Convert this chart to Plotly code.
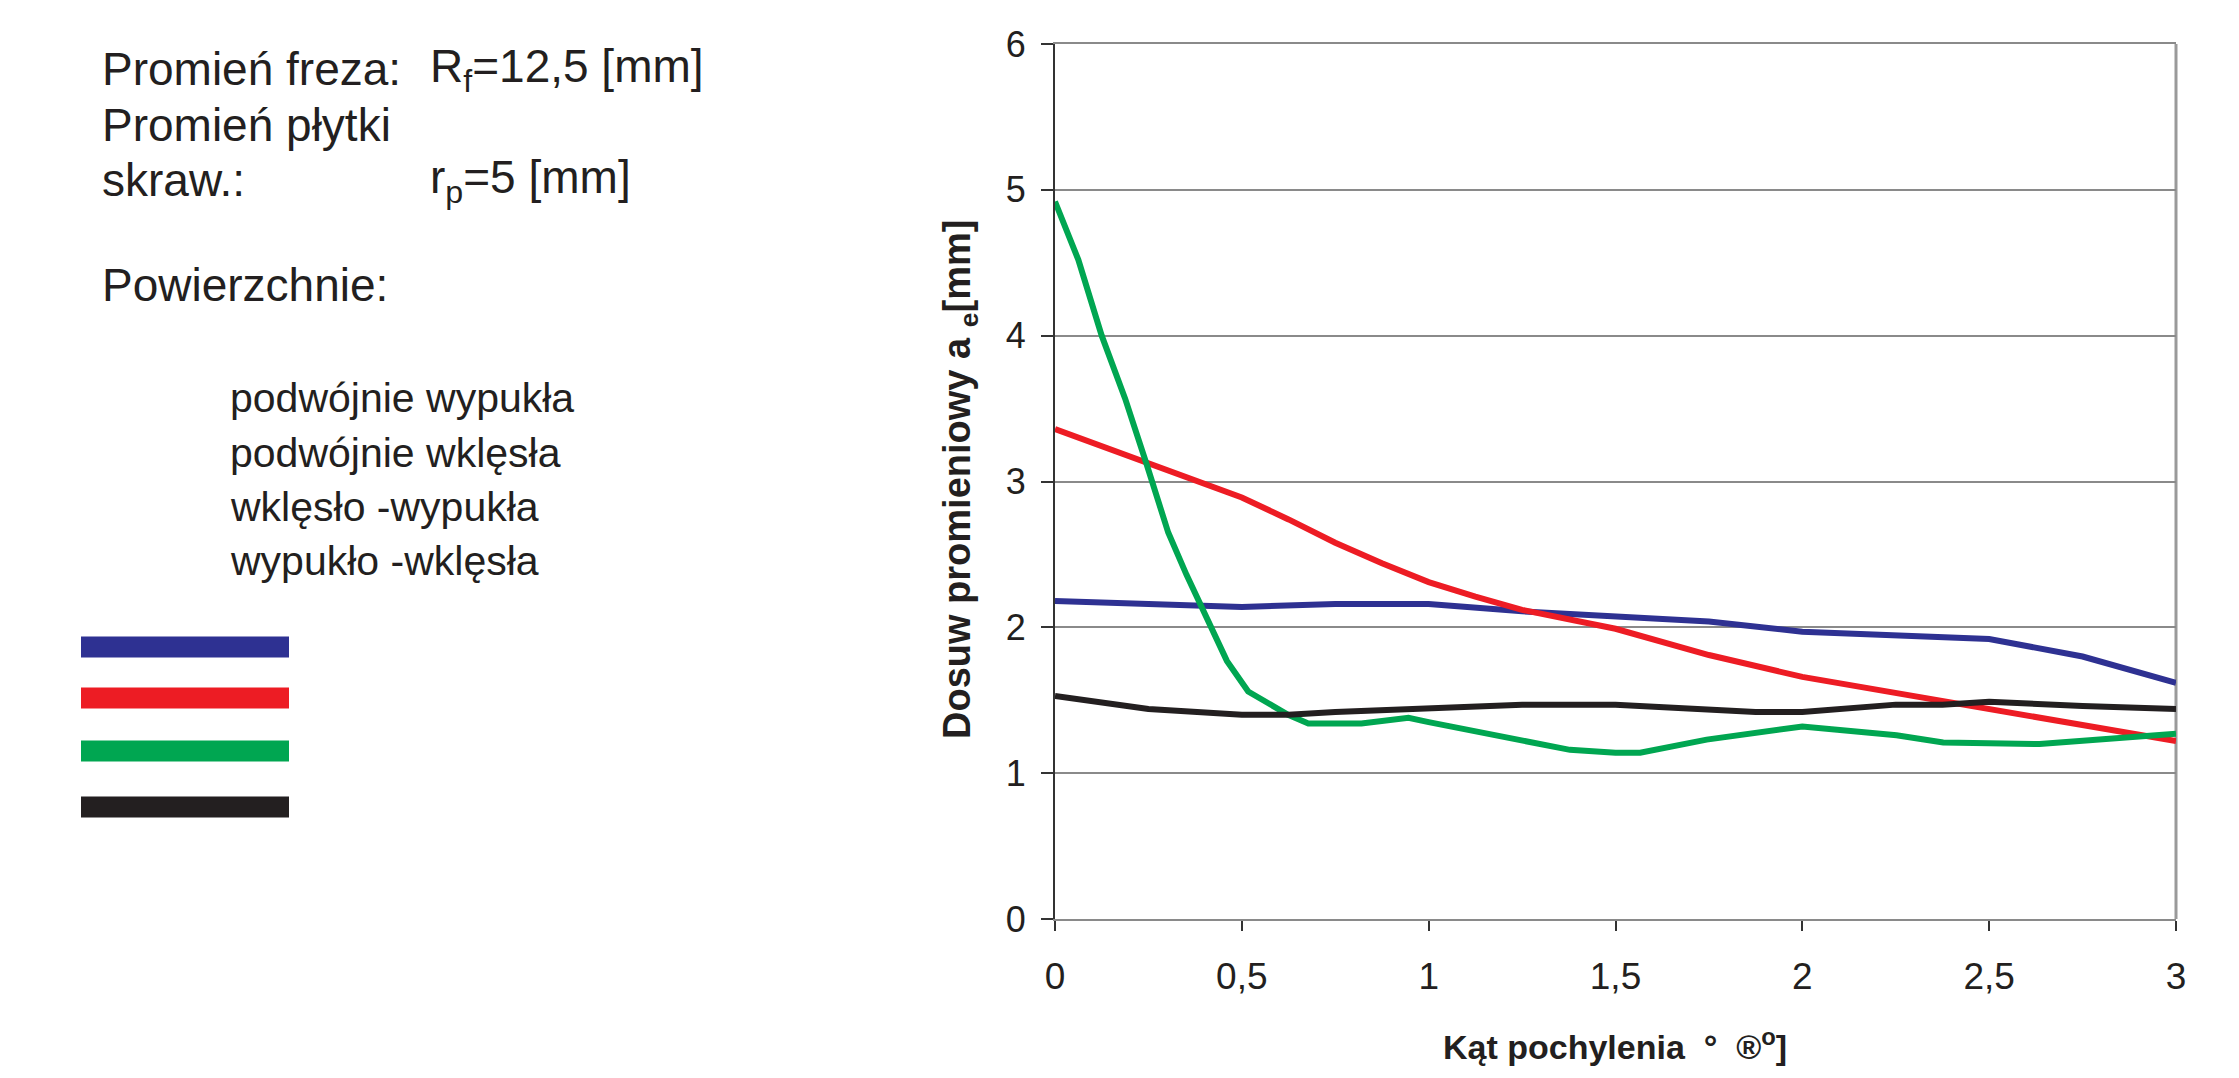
import plotly.graph_objects as go

# ---------------- data ----------------
names = ["podwójnie wypukła", "podwójnie wklęsła", "wklęsło -wypukła", "wypukło -wklęsła"]
colors = ["#2E3192", "#ED1C24", "#00A651", "#231F20"]

x_blue = [0, 0.5, 0.75, 1.0, 1.25, 1.5, 1.75, 2.0, 2.125, 2.25, 2.375, 2.5, 2.75, 3.0]
y_blue = [2.18, 2.14, 2.16, 2.16, 2.11, 2.08, 2.04, 1.97, 1.96, 1.94, 1.94, 1.92, 1.80, 1.62]

x_red = [0, 0.125, 0.25, 0.5, 0.625, 0.75, 0.875, 1.0, 1.125, 1.25, 1.5, 1.75, 2.0, 2.25, 2.5, 2.75, 3.0]
y_red = [3.36, 3.24, 3.12, 2.89, 2.74, 2.58, 2.44, 2.31, 2.21, 2.12, 1.99, 1.81, 1.66, 1.55, 1.45, 1.34, 1.22]

x_green = [0, 0.0625, 0.125, 0.1875, 0.245, 0.303, 0.352, 0.40, 0.46, 0.517, 0.557, 0.624, 0.678,
           0.82, 0.946, 1.0, 1.378, 1.5, 1.566, 1.744, 2.0, 2.252, 2.377, 2.506, 2.635, 3.0]
y_green = [4.92, 4.52, 4.0, 3.57, 3.12, 2.65, 2.36, 2.10, 1.77, 1.56, 1.50, 1.40, 1.34,
           1.34, 1.38, 1.35, 1.16, 1.14, 1.14, 1.23, 1.32, 1.26, 1.21, 1.20, 1.20, 1.27]

x_black = [0, 0.25, 0.5, 0.625, 0.75, 1.0, 1.25, 1.5, 1.75, 1.875, 2.0, 2.25, 2.375, 2.5, 2.75, 3.0]
y_black = [1.53, 1.44, 1.40, 1.40, 1.42, 1.44, 1.47, 1.47, 1.44, 1.42, 1.42, 1.47, 1.47, 1.49, 1.46, 1.44]

xtick_vals = [0, 0.5, 1, 1.5, 2, 2.5, 3]
xtick_text = ["0", "0,5", "1", "1,5", "2", "2,5", "3"]
ytick_vals = [0, 1, 2, 3, 4, 5, 6]
ytick_text = ["0", "1", "2", "3", "4", "5", "6"]

series_x = [x_blue, x_red, x_green, x_black]
series_y = [y_blue, y_red, y_green, y_black]

# ---------------- layout geometry (page pixels) ----------------
W, H = 2239, 1078
OFF = 8                     # default page body margin
PL, PR, PT, PB = 1055, 2176, 44, 919
FONT = "Liberation Sans, Arial, sans-serif"
TXT = "#231F20"

def px(xp):
    return (xp - PL) / (PR - PL)

def py(yp):
    return (PB - yp) / (PB - PT)

fig = go.Figure()
for xs, ys, nm, c in zip(series_x, series_y, names, colors):
    fig.add_trace(go.Scatter(x=xs, y=ys, mode="lines", name=nm,
                             line=dict(color=c, width=6), showlegend=False))

annotations = []
def note(text, xp, yp, size=46, anchor="left", angle=0):
    annotations.append(dict(text=text, x=px(xp), y=py(yp), xref="paper", yref="paper",
                            xanchor=anchor, yanchor="middle", showarrow=False,
                            textangle=angle,
                            font=dict(family=FONT, size=size, color=TXT)))

note("Promień freza:", 100, 69)
note("R<sub>f</sub>=12,5 [mm]", 428, 69)
note("Promień płytki", 100, 125)
note("skraw.:", 100, 180)
note("r<sub>p</sub>=5 [mm]", 428, 180)
note("Powierzchnie:", 100, 285)
for nm, yy in zip(names, [398, 453, 507, 561]):
    note(nm, 228, yy, size=41)

# axis titles
note("<b>Dosuw promieniowy a <sub>e</sub>[mm]</b>", 960, 480, size=38, anchor="center", angle=-90)
note("<b>Kąt pochylenia  °  ®<sup>o</sup>]</b>", 1615, 1044, size=34, anchor="center")

shapes = []
# legend bars
for c, yy in zip(colors, [647, 698, 751, 807]):
    shapes.append(dict(type="rect", xref="paper", yref="paper",
                       x0=px(81), x1=px(289), y0=py(yy + 10.5), y1=py(yy - 10.5),
                       fillcolor=c, line=dict(width=0)))
# right border of plot area
shapes.append(dict(type="line", xref="paper", yref="paper", x0=1, x1=1, y0=0, y1=1,
                   line=dict(color="#9a9a9a", width=3), layer="below"))

FW, FH = W - 2 * OFF, H - 2 * OFF
fig.update_layout(
    width=FW, height=FH, autosize=False,
    margin=dict(l=PL - OFF, r=(FW + OFF) - PR, t=PT - OFF, b=(FH + OFF) - PB, pad=0),
    paper_bgcolor="white", plot_bgcolor="white",
    font=dict(family=FONT, size=36, color=TXT),
    annotations=annotations, shapes=shapes, showlegend=False,
    xaxis=dict(range=[0, 3], tickvals=xtick_vals, ticktext=xtick_text,
               showgrid=False, zeroline=False, showline=True, mirror=True,
               linecolor="#8a8a8a", linewidth=2, ticks="outside", ticklen=10,
               tickcolor="#333333", tickwidth=1.5, ticklabelstandoff=14,
               tickfont=dict(family=FONT, size=37, color=TXT)),
    yaxis=dict(range=[0, 6], tickvals=ytick_vals, ticktext=ytick_text,
               showgrid=True, gridcolor="#8a8a8a", gridwidth=1.5, zeroline=False,
               showline=True, linecolor="#333333", linewidth=2,
               ticks="outside", ticklen=12, tickcolor="#333333", tickwidth=1.5,
               ticklabelstandoff=8,
               tickfont=dict(family=FONT, size=36, color=TXT)),
)

fig.write_html("out.html")
